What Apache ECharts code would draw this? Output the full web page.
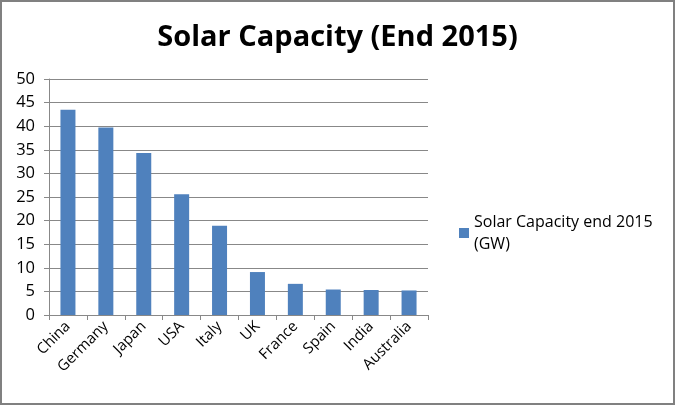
<!DOCTYPE html>
<html><head><meta charset="utf-8">
<script src="https://cdn.jsdelivr.net/npm/echarts@6/dist/echarts.min.js"></script>
<style>html,body{margin:0;padding:0;background:#fff}#c{width:675px;height:405px;box-sizing:border-box;border:2px solid #808080}</style>
</head><body><div id="c"></div>
<script>
const categories = ['China','Germany','Japan','USA','Italy','UK','France','Spain','India','Australia'];
const values = [43.5, 39.7, 34.3, 25.6, 18.9, 9.1, 6.6, 5.4, 5.3, 5.2];
const seriesName = 'Solar Capacity end 2015\n(GW)';
const chart = echarts.init(document.getElementById('c'));
const font = 'Open Sans';
chart.setOption({
  animation: false,
  title: { text: 'Solar Capacity (End 2015)', left: 'center', top: 16,
    textStyle: { fontFamily: font, fontWeight: 'bold', fontSize: 29, color: '#000' } },
  grid: { left: 47, right: 245, top: 77, bottom: 88 },
  legend: { left: 452, top: 204, itemWidth: 10, itemHeight: 10, icon: 'rect', itemGap: 6,
    textStyle: { fontFamily: font, fontSize: 16, color: '#000', lineHeight: 22 },
    data: [seriesName] },
  xAxis: { type: 'category', data: categories,
    axisLine: { lineStyle: { color: '#888' } },
    axisTick: { show: true, length: 5, lineStyle: { color: '#888' } },
    axisLabel: { rotate: 45, fontFamily: font, fontSize: 15, color: '#000', margin: 9 } },
  yAxis: { type: 'value', min: 0, max: 50, interval: 5,
    axisLine: { show: true, lineStyle: { color: '#888' } },
    axisTick: { show: true, length: 5, lineStyle: { color: '#888' } },
    splitLine: { lineStyle: { color: '#888' } },
    axisLabel: { fontFamily: font, fontSize: 16.5, color: '#000', margin: 14 } },
  series: [{ name: seriesName, type: 'bar', data: values, barWidth: 15,
    itemStyle: { color: '#4f81bd' } }]
});
</script></body></html>
